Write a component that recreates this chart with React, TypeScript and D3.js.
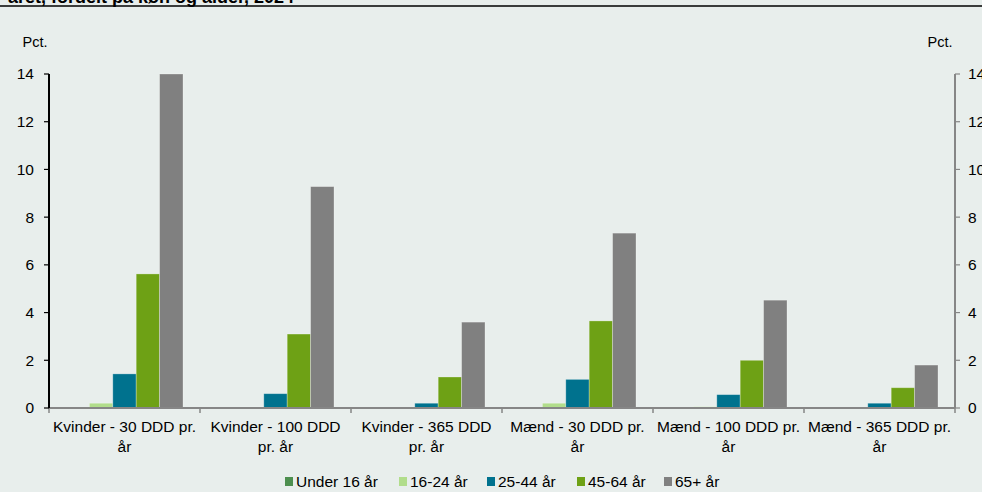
import { useEffect, useRef } from "react";
import * as d3 from "d3";

const WIDTH = 982;
const HEIGHT = 492;
const MARGIN = { top: 74, right: 27, bottom: 84, left: 49 };

const categories = [
  ["Kvinder - 30 DDD pr.", "år"],
  ["Kvinder - 100 DDD", "pr. år"],
  ["Kvinder - 365 DDD", "pr. år"],
  ["Mænd - 30 DDD pr.", "år"],
  ["Mænd - 100 DDD pr.", "år"],
  ["Mænd - 365 DDD pr.", "år"],
];

const seriesNames = ["Under 16 år", "16-24 år", "25-44 år", "45-64 år", "65+ år"];
const seriesColors = ["#4d8f4f", "#b1dd8b", "#00728e", "#6ea115", "#808080"];

// one value per category, per age group
const under16 = [0, 0, 0, 0, 0, 0];
const age16to24 = [0.2, 0.04, 0.01, 0.2, 0.05, 0.01];
const age25to44 = [1.43, 0.6, 0.2, 1.2, 0.56, 0.2];
const age45to64 = [5.62, 3.1, 1.3, 3.65, 2.0, 0.85];
const age65plus = [14.0, 9.28, 3.6, 7.33, 4.52, 1.8];

const yTicks = [0, 2, 4, 6, 8, 10, 12, 14];

const FONT = "'Liberation Sans', Arial, sans-serif";

export default function App() {
  const ref = useRef<SVGSVGElement>(null);

  useEffect(() => {
    if (!ref.current) return;
    const svg = d3.select(ref.current);
    svg.selectAll("*").remove();

    const boundsWidth = WIDTH - MARGIN.left - MARGIN.right;
    const boundsHeight = 408 - MARGIN.top;
    const series = [under16, age16to24, age25to44, age45to64, age65plus];

    svg.append("rect").attr("width", WIDTH).attr("height", HEIGHT).attr("fill", "#e8eeec");

    // title, cut off by the top edge as in the source, and the rule under it
    svg
      .append("text")
      .attr("x", 8)
      .attr("y", 3)
      .attr("font-family", FONT)
      .attr("font-size", 18)
      .attr("font-weight", "bold")
      .attr("fill", "#000")
      .text("året, fordelt på køn og alder, 2024");
    svg
      .append("line")
      .attr("x1", 0)
      .attr("x2", WIDTH)
      .attr("y1", 6)
      .attr("y2", 6)
      .attr("stroke", "#000")
      .attr("stroke-width", 1.5);

    const g = svg.append("g").attr("transform", `translate(${MARGIN.left},${MARGIN.top})`);

    const x0 = d3
      .scaleBand<number>()
      .domain(d3.range(categories.length))
      .range([0, boundsWidth])
      .paddingInner(0)
      .paddingOuter(0);
    const x1 = d3
      .scaleBand<number>()
      .domain(d3.range(seriesNames.length))
      .range([17, x0.bandwidth() - 17]);
    const y = d3.scaleLinear().domain([0, 14]).range([boundsHeight, 0]);

    // bars
    categories.forEach((_, ci) => {
      const cg = g.append("g").attr("transform", `translate(${x0(ci)},0)`);
      series.forEach((vals, si) => {
        const v = vals[ci];
        if (v <= 0) return;
        cg.append("rect")
          .attr("x", x1(si)!)
          .attr("width", x1.bandwidth())
          .attr("y", y(v))
          .attr("height", boundsHeight - y(v))
          .attr("fill", seriesColors[si])
          .attr("stroke", "#ffffff")
          .attr("stroke-opacity", 0.35)
          .attr("stroke-width", 0.8);
      });
    });

    // x axis
    g.append("line")
      .attr("x1", 0)
      .attr("x2", boundsWidth)
      .attr("y1", boundsHeight)
      .attr("y2", boundsHeight)
      .attr("stroke", "#868686")
      .attr("stroke-width", 2);
    d3.range(categories.length + 1).forEach((i) => {
      const xx = i * x0.bandwidth();
      g.append("line")
        .attr("x1", xx)
        .attr("x2", xx)
        .attr("y1", boundsHeight)
        .attr("y2", boundsHeight + 5)
        .attr("stroke", "#868686")
        .attr("stroke-width", 1.5);
    });
    categories.forEach((lines, ci) => {
      const cx = x0(ci)! + x0.bandwidth() / 2;
      lines.forEach((t, li) => {
        g.append("text")
          .attr("x", cx)
          .attr("y", boundsHeight + 24 + li * 20)
          .attr("text-anchor", "middle")
          .attr("font-family", FONT)
          .attr("font-size", 15.5)
          .attr("fill", "#000")
          .text(t);
      });
    });

    // left axis
    g.append("line")
      .attr("x1", 0)
      .attr("x2", 0)
      .attr("y1", 0)
      .attr("y2", boundsHeight)
      .attr("stroke", "#000")
      .attr("stroke-width", 2);
    // right axis
    g.append("line")
      .attr("x1", boundsWidth)
      .attr("x2", boundsWidth)
      .attr("y1", 0)
      .attr("y2", boundsHeight)
      .attr("stroke", "#868686")
      .attr("stroke-width", 2);

    yTicks.forEach((t) => {
      g.append("line")
        .attr("x1", -5)
        .attr("x2", 0)
        .attr("y1", y(t))
        .attr("y2", y(t))
        .attr("stroke", "#000")
        .attr("stroke-width", 1.2);
      g.append("text")
        .attr("x", -15)
        .attr("y", y(t))
        .attr("dy", "0.35em")
        .attr("text-anchor", "end")
        .attr("font-family", FONT)
        .attr("font-size", 15.5)
        .attr("fill", "#000")
        .text(t);
      g.append("line")
        .attr("x1", boundsWidth)
        .attr("x2", boundsWidth + 5)
        .attr("y1", y(t))
        .attr("y2", y(t))
        .attr("stroke", "#868686")
        .attr("stroke-width", 1.2);
      g.append("text")
        .attr("x", boundsWidth + 13)
        .attr("y", y(t))
        .attr("dy", "0.35em")
        .attr("font-family", FONT)
        .attr("font-size", 15.5)
        .attr("fill", "#000")
        .text(t);
    });

    // unit labels
    [35, 940].forEach((px) => {
      svg
        .append("text")
        .attr("x", px)
        .attr("y", 47)
        .attr("text-anchor", "middle")
        .attr("font-family", FONT)
        .attr("font-size", 14.5)
        .text("Pct.");
    });

    // legend
    const legendX = [285, 399, 487, 577, 664];
    const legend = svg.append("g");
    seriesNames.forEach((name, i) => {
      legend
        .append("rect")
        .attr("x", legendX[i])
        .attr("y", 477)
        .attr("width", 8)
        .attr("height", 9)
        .attr("fill", seriesColors[i]);
      legend
        .append("text")
        .attr("x", legendX[i] + 11)
        .attr("y", 486.5)
        .attr("font-family", FONT)
        .attr("font-size", 15.5)
        .attr("fill", "#000")
        .text(name);
    });
  }, []);

  return (
    <div style={{ position: "fixed", left: 0, top: 0 }}>
      <svg ref={ref} width={WIDTH} height={HEIGHT} style={{ display: "block" }} />
    </div>
  );
}
